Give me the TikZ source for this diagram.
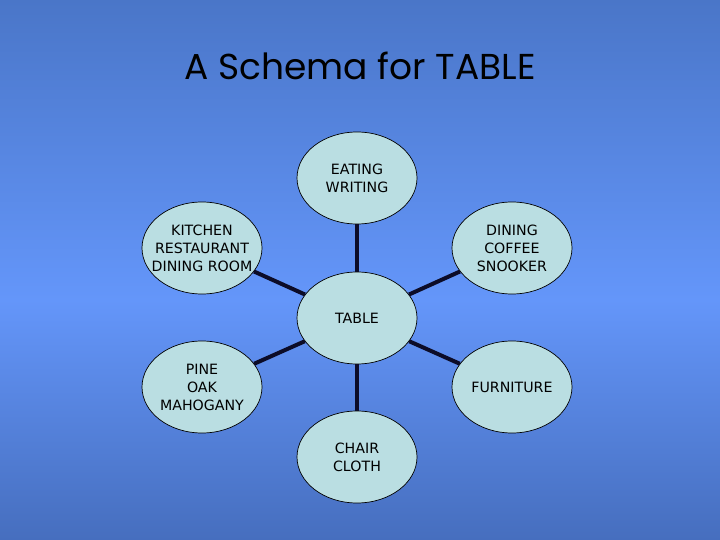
\documentclass[tikz,border=0pt]{standalone}
\usepackage{fontspec}
\setmainfont{DejaVu Sans}
\newfontfamily\titlefont{Poppins}
\usetikzlibrary{shapes.geometric}
\definecolor{bgtop}{RGB}{74,118,200}
\definecolor{bgmid}{RGB}{100,150,250}
\definecolor{bgbot}{RGB}{70,110,190}
\definecolor{ellfill}{RGB}{186,222,226}
\definecolor{linkcol}{RGB}{12,12,40}
\begin{document}
\begin{tikzpicture}[x=1pt,y=-1pt,
  bubble/.style={ellipse,draw=black,line width=0.7pt,fill=ellfill,minimum width=120pt,minimum height=92pt,inner xsep=-10pt,inner ysep=-6pt,align=center,font=\fontsize{14.2}{18}\selectfont,text=black},
  link/.style={draw=linkcol,line width=4pt}]
\shade[top color=bgtop,bottom color=bgmid] (0,0) rectangle (720,300);
\shade[top color=bgmid,bottom color=bgbot] (0,300) rectangle (720,540);
\useasboundingbox (0,0) rectangle (720,540);
\node (title) at (360,66) {\titlefont\fontsize{36}{42}\selectfont A Schema for TABLE};
\node[bubble] (table) at (357,318) {TABLE};
\node[bubble] (eat) at (357,178) {EATING\\WRITING};
\node[bubble] (kit) at (202,248) {KITCHEN\\RESTAURANT\\DINING ROOM};
\node[bubble] (din) at (512,248) {DINING\\COFFEE\\SNOOKER};
\node[bubble] (pine) at (202,387) {PINE\\OAK\\MAHOGANY};
\node[bubble] (furn) at (512,387) {FURNITURE};
\node[bubble] (chair) at (357,457) {CHAIR\\CLOTH};
\draw[link] (table) -- (eat);
\draw[link] (table) -- (kit);
\draw[link] (table) -- (din);
\draw[link] (table) -- (pine);
\draw[link] (table) -- (furn);
\draw[link] (table) -- (chair);
\end{tikzpicture}
\end{document}
